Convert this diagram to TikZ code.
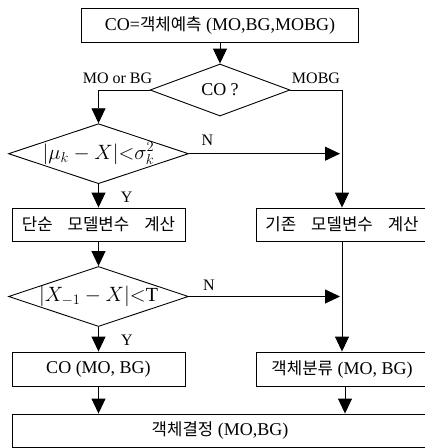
\documentclass[tikz,border=0pt]{standalone}
\usepackage{fontspec}
\setmainfont{Liberation Serif}
\newfontfamily\kr[Scale=0.93,WordSpace=4]{Noto Sans CJK KR}
\usetikzlibrary{arrows.meta,shapes.geometric}
\begin{document}
\begin{tikzpicture}[x=1pt,y=-1pt,
  every node/.style={font=\fontsize{18}{22}\selectfont},
  box/.style={draw,line width=0.9pt,inner sep=0pt},
  dia/.style={draw,line width=0.9pt,shape=diamond,inner sep=0pt},
  con/.style={line width=0.9pt,-{Triangle[width=14pt,length=15pt]}},
  lbl/.style={anchor=base,inner sep=0pt,font=\fontsize{16}{19}\selectfont}]
\useasboundingbox (0,0) rectangle (425,448);
% boxes
\node[box,minimum width=276.6pt,minimum height=34pt] (top) at (220,25.3) {CO={\kr 객체예측} (MO,BG,MOBG)};
\node[dia,minimum width=140pt,minimum height=52pt] (d1) at (220,90) {\makebox[0pt]{CO ?}};
\node[dia,minimum width=180pt,minimum height=60pt] (d2) at (98.5,153.7) {\makebox[0pt]{\fontsize{20}{24}\selectfont$|\mu_k - X|{<}\sigma_k^2$}};
\node[box,minimum width=173pt,minimum height=33pt] (b1) at (98.5,224.5) {\kr 단순 모델변수 계산};
\node[box,minimum width=172pt,minimum height=33pt] (b2) at (342,224.5) {\kr 기존 모델변수 계산};
\node[dia,minimum width=180pt,minimum height=60pt] (d3) at (98.5,296.5) {\makebox[0pt]{\fontsize{20}{24}\selectfont$|X_{-1} - X|{<}\mathrm{T}$}};
\node[box,minimum width=173pt,minimum height=34pt] (b3) at (98.5,369) {CO (MO, BG)};
\node[box,minimum width=172pt,minimum height=34pt] (b4) at (342,369) {{\kr 객체분류} (MO, BG)};
\node[box,minimum width=416pt,minimum height=33pt] (b5) at (220,430.5) {{\kr 객체결정} (MO,BG)};
% connectors
\draw[con] (top.south) -- (d1.north);
\draw[con] (d1.west) -| (d2.north);
\draw[con] (d1.east) -| (b2.north);
\draw[con,shorten >=2pt] (d2.east) -- (d2.east -| b2.north);
\draw[con] (d2.south) -- (b1.north);
\draw[con] (b1.south) -- (d3.north);
\draw[line width=0.9pt,-{Triangle[width=14pt,length=15pt]}] (b2.south) -- (b4.north);
\draw[con,shorten >=2pt] (d3.east) -- (d3.east -| b4.north);
\draw[con] (d3.south) -- (b3.north);
\draw[con] (b3.south) -- (b3.south |- b5.north);
\coordinate (r4) at ([xshift=3pt]b4.south);
\draw[con] (r4) -- (r4 |- b5.north);
% labels
\node[lbl] (l1) at (117.5,83.3) {MO or BG};
\node[lbl] (l2) at (316,83) {MOBG};
\node[lbl] (l3) at (207.5,145.7) {N};
\node[lbl] (l4) at (126.7,202.7) {Y};
\node[lbl] (l5) at (209,290.7) {N};
\node[lbl] (l6) at (127,345) {Y};
\end{tikzpicture}
\end{document}
